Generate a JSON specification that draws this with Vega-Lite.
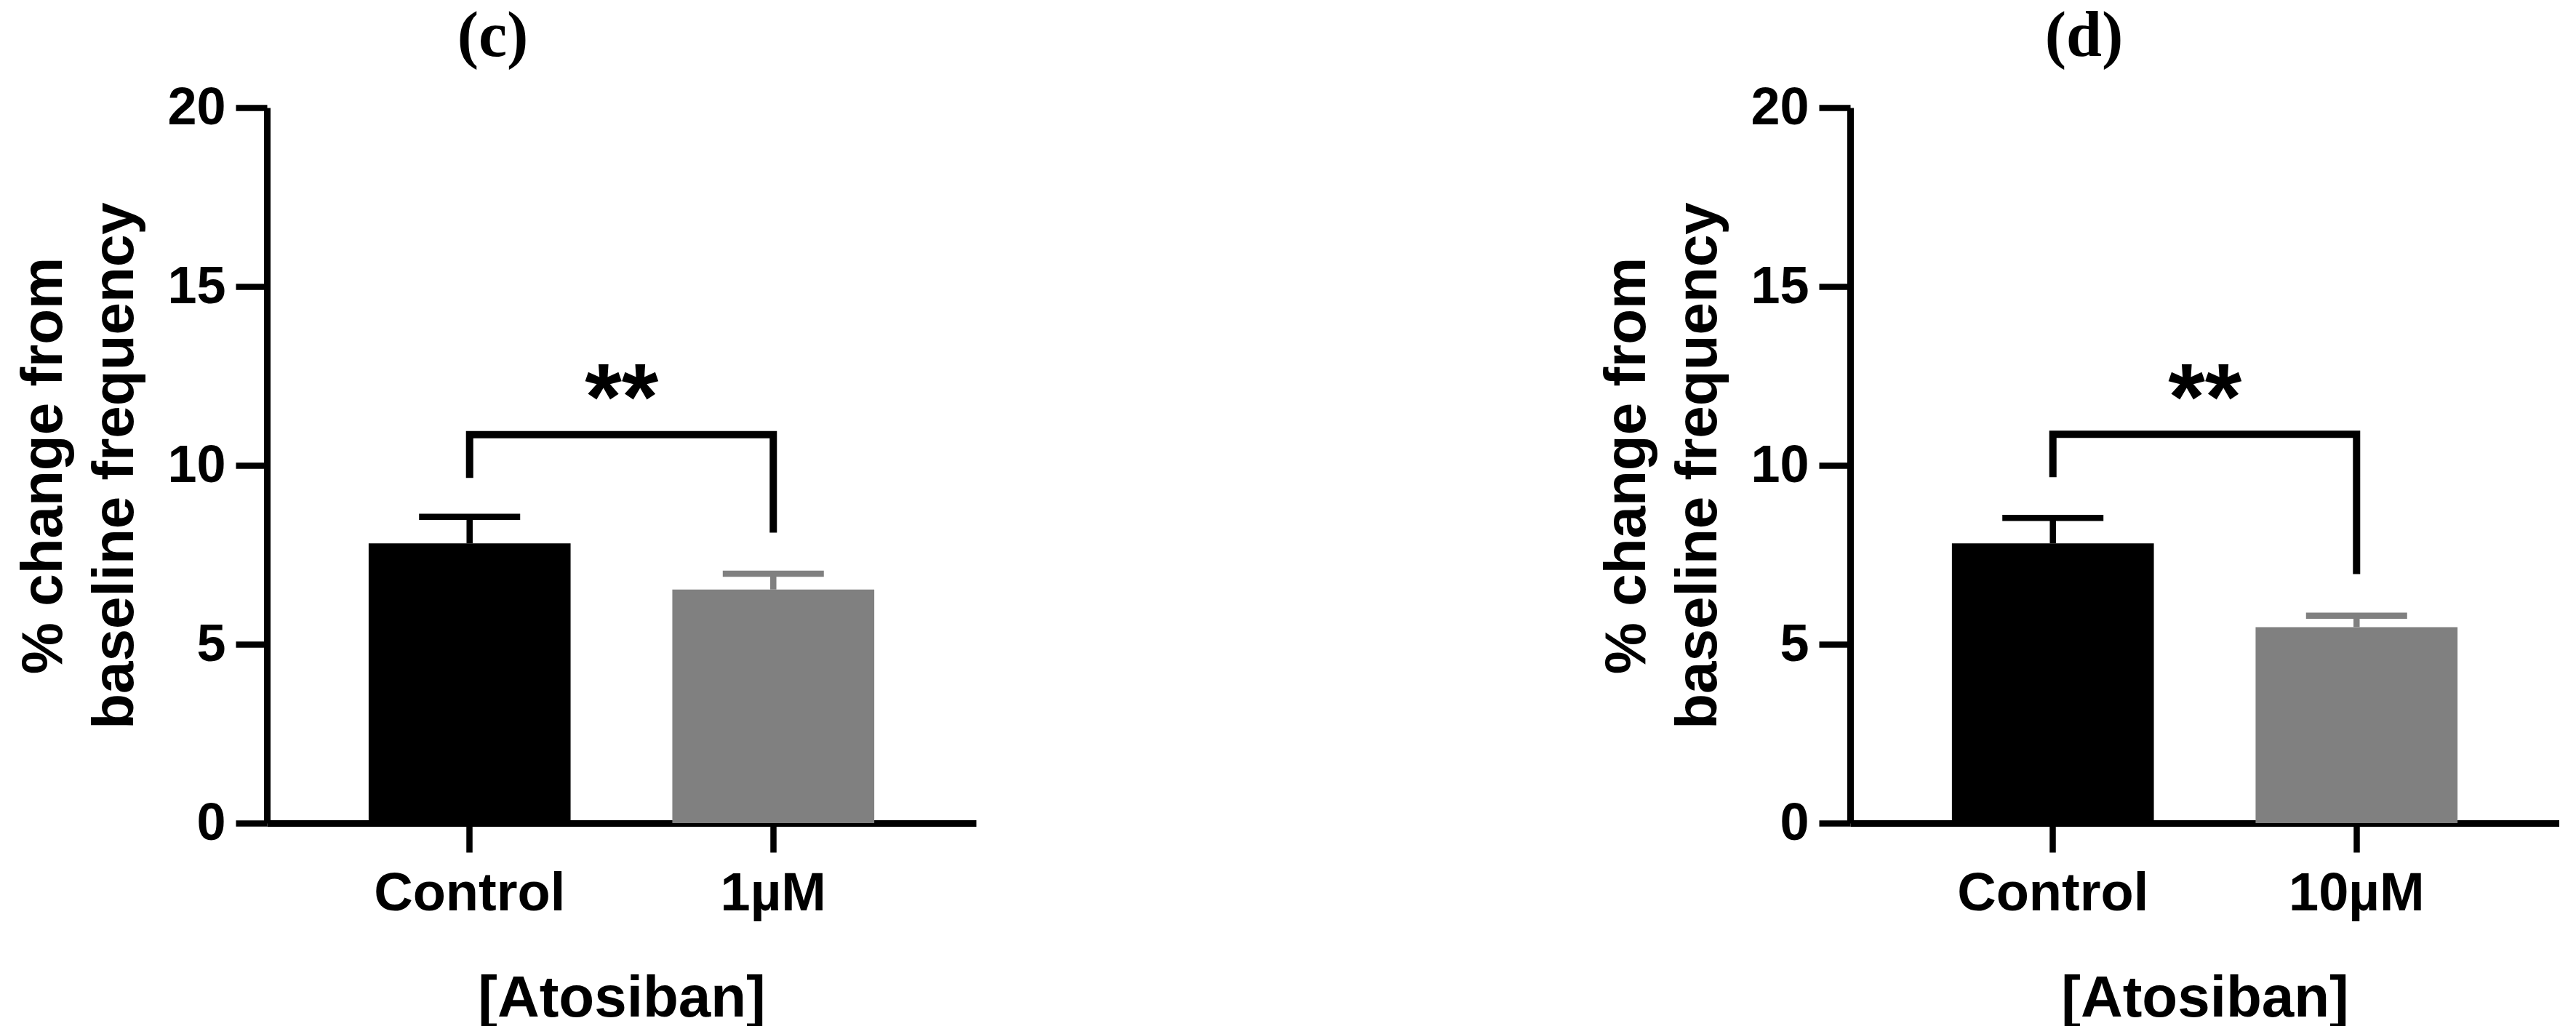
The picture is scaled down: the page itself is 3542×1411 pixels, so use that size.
{
  "$schema": "https://vega.github.io/schema/vega-lite/v6.json",
  "background": "white",
  "padding": {"left": 20, "top": 7, "right": 0, "bottom": 0},
  "config": {
    "view": {"stroke": null},
    "font": "Liberation Sans",
    "axis": {
      "grid": false,
      "domainColor": "black",
      "domainWidth": 9,
      "tickColor": "black",
      "tickWidth": 8.5,
      "labelColor": "black",
      "titleColor": "black",
      "labelFont": "Liberation Sans",
      "titleFont": "Liberation Sans",
      "labelFontWeight": "bold",
      "titleFontWeight": "bold",
      "labelLimit": 0,
      "titleLimit": 0
    },
    "axisX": {"labelAngle": 0, "tickSize": 40, "labelPadding": 21, "labelFontSize": 74, "titleFontSize": 80, "titlePadding": 68},
    "axisY": {"tickSize": 43, "labelPadding": 14, "labelFontSize": 72, "titleFontSize": 80, "titlePadding": 30, "titleLineHeight": 98},
    "title": {"font": "Liberation Serif", "fontSize": 88, "fontWeight": "bold", "color": "black", "anchor": "middle", "frame": "group", "offset": 17}
  },
  "datasets": {
    "bars_c": [
      {"group": "Control", "mean": 7.82, "upper": 8.56},
      {"group": "1µM", "mean": 6.53, "upper": 6.97}
    ],
    "bars_d": [
      {"group": "Control", "mean": 7.82, "upper": 8.53},
      {"group": "10µM", "mean": 5.48, "upper": 5.80}
    ],
    "bracket_c": [
      {"group": "Control", "step": 1, "y": 9.65},
      {"group": "Control", "step": 2, "y": 10.86},
      {"group": "1µM", "step": 3, "y": 10.86},
      {"group": "1µM", "step": 4, "y": 8.12}
    ],
    "bracket_d": [
      {"group": "Control", "step": 1, "y": 9.67},
      {"group": "Control", "step": 2, "y": 10.87},
      {"group": "10µM", "step": 3, "y": 10.87},
      {"group": "10µM", "step": 4, "y": 6.96}
    ],
    "sig": [
      {"group": "Control", "y": 11.0, "label": "**"}
    ]
  },
  "bounds": "flush",
  "spacing": 1202,
  "resolve": {"scale": {"x": "independent", "y": "independent", "color": "independent"}},
  "hconcat": [
    {
      "title": {"text": "(c)", "dx": -177},
      "width": 975,
      "height": 984,
      "layer": [
        {
          "data": {"name": "bars_c"},
          "mark": {"type": "bar", "opacity": 1},
          "encoding": {
            "x": {"field": "group", "type": "nominal", "scale": {"domain": ["Control", "1µM"], "paddingInner": 0.335, "paddingOuter": 0.335}, "axis": {"title": "[Atosiban]"}},
            "y": {"field": "mean", "type": "quantitative", "scale": {"domain": [0, 20], "nice": false}, "axis": {"values": [0, 5, 10, 15, 20], "title": ["% change from", "baseline frequency"]}},
            "color": {"field": "group", "type": "nominal", "scale": {"domain": ["Control", "1µM"], "range": ["#000000", "#808080"]}, "legend": null}
          }
        },
        {
          "data": {"name": "bars_c"},
          "mark": {"type": "rule", "strokeWidth": 8.5, "opacity": 1},
          "encoding": {
            "x": {"field": "group", "type": "nominal"},
            "y": {"field": "mean", "type": "quantitative"},
            "y2": {"field": "upper"},
            "color": {"field": "group", "type": "nominal", "legend": null}
          }
        },
        {
          "data": {"name": "bars_c"},
          "mark": {"type": "tick", "size": 139, "thickness": 8.5, "opacity": 1},
          "encoding": {
            "x": {"field": "group", "type": "nominal"},
            "y": {"field": "upper", "type": "quantitative"},
            "color": {"field": "group", "type": "nominal", "legend": null}
          }
        },
        {
          "data": {"name": "bracket_c"},
          "mark": {"type": "line", "color": "black", "strokeWidth": 10, "strokeJoin": "miter", "strokeCap": "butt"},
          "encoding": {
            "x": {"field": "group", "type": "nominal"},
            "y": {"field": "y", "type": "quantitative"},
            "order": {"field": "step", "type": "quantitative"}
          }
        },
        {
          "data": {"name": "sig"},
          "mark": {"type": "text", "dx": 209, "fontSize": 130, "fontWeight": "bold", "font": "Liberation Sans", "baseline": "alphabetic", "align": "center", "color": "black"},
          "encoding": {
            "x": {"field": "group", "type": "nominal"},
            "y": {"field": "y", "type": "quantitative"},
            "text": {"field": "label"}
          }
        }
      ]
    },
    {
      "title": {"text": "(d)", "dx": -166},
      "width": 975,
      "height": 984,
      "layer": [
        {
          "data": {"name": "bars_d"},
          "mark": {"type": "bar", "opacity": 1},
          "encoding": {
            "x": {"field": "group", "type": "nominal", "scale": {"domain": ["Control", "10µM"], "paddingInner": 0.335, "paddingOuter": 0.335}, "axis": {"title": "[Atosiban]"}},
            "y": {"field": "mean", "type": "quantitative", "scale": {"domain": [0, 20], "nice": false}, "axis": {"values": [0, 5, 10, 15, 20], "title": ["% change from", "baseline frequency"]}},
            "color": {"field": "group", "type": "nominal", "scale": {"domain": ["Control", "10µM"], "range": ["#000000", "#808080"]}, "legend": null}
          }
        },
        {
          "data": {"name": "bars_d"},
          "mark": {"type": "rule", "strokeWidth": 8.5, "opacity": 1},
          "encoding": {
            "x": {"field": "group", "type": "nominal"},
            "y": {"field": "mean", "type": "quantitative"},
            "y2": {"field": "upper"},
            "color": {"field": "group", "type": "nominal", "legend": null}
          }
        },
        {
          "data": {"name": "bars_d"},
          "mark": {"type": "tick", "size": 139, "thickness": 8.5, "opacity": 1},
          "encoding": {
            "x": {"field": "group", "type": "nominal"},
            "y": {"field": "upper", "type": "quantitative"},
            "color": {"field": "group", "type": "nominal", "legend": null}
          }
        },
        {
          "data": {"name": "bracket_d"},
          "mark": {"type": "line", "color": "black", "strokeWidth": 10, "strokeJoin": "miter", "strokeCap": "butt"},
          "encoding": {
            "x": {"field": "group", "type": "nominal"},
            "y": {"field": "y", "type": "quantitative"},
            "order": {"field": "step", "type": "quantitative"}
          }
        },
        {
          "data": {"name": "sig"},
          "mark": {"type": "text", "dx": 209, "fontSize": 130, "fontWeight": "bold", "font": "Liberation Sans", "baseline": "alphabetic", "align": "center", "color": "black"},
          "encoding": {
            "x": {"field": "group", "type": "nominal"},
            "y": {"field": "y", "type": "quantitative"},
            "text": {"field": "label"}
          }
        }
      ]
    }
  ]
}
